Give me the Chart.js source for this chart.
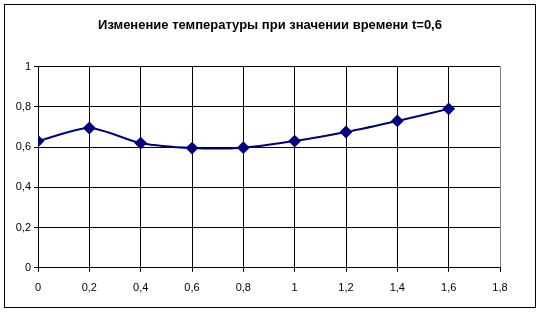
<!DOCTYPE html>
<html>
<head>
<meta charset="utf-8">
<script src="https://cdn.jsdelivr.net/npm/chart.js@4"></script>
<style>
  body { margin: 0; background: #fff; }
  #wrap { position: relative; width: 540px; height: 313px; }
  #frame { position: absolute; left: 4px; top: 4px; width: 530px; height: 302px; border: 1px solid #000; pointer-events: none; }
</style>
</head>
<body>
<div id="wrap">
  <canvas id="myChart" width="540" height="313"></canvas>
  <div id="frame"></div>
</div>
<script>
'use strict';

// values
let timeValues = [0, 0.2, 0.4, 0.6, 0.8, 1, 1.2, 1.4, 1.6];
let tempValues = [0.63, 0.695, 0.62, 0.595, 0.597, 0.63, 0.675, 0.73, 0.79];
let chartTitle = 'Изменение температуры при значении времени t=0,6';

function commaLabel(v){
  return String(Number(v.toFixed(1))).replace('.', ',');
}

let points = [];
for(let i = 0; i < timeValues.length; i++){
  points.push({x: timeValues[i], y: tempValues[i]});
}

const ctx = document.getElementById('myChart');

new Chart(ctx, {
  type: 'scatter',
  data: {
    datasets: [{
      data: points,
      showLine: true,
      borderColor: '#000080',
      backgroundColor: '#000080',
      borderWidth: 2,
      tension: 0.25,
      pointStyle: 'rectRot',
      pointRadius: 5,
      pointHoverRadius: 5
    }]
  },
  options: {
    responsive: false,
    animation: false,
    layout: { padding: { left: 0, right: 0, top: 0, bottom: 8 } },
    plugins: {
      legend: { display: false },
      tooltip: { enabled: false },
      title: {
        display: true,
        text: chartTitle,
        color: '#000',
        font: { family: 'Liberation Sans, Arial', size: 13, weight: 'bold' },
        padding: { top: 18, bottom: 33 }
      }
    },
    scales: {
      x: {
        type: 'linear',
        min: 0,
        max: 1.8,
        ticks: {
          stepSize: 0.2,
          color: '#000',
          padding: 10,
          font: { family: 'Liberation Sans, Arial', size: 11 },
          callback: (v) => commaLabel(v)
        },
        grid: {
          color: (c) => (c.index === 9 ? '#808080' : '#000'),
          tickLength: 4,
          tickColor: '#000'
        },
        border: { color: '#000' }
      },
      y: {
        min: 0,
        max: 1,
        afterFit: (scale) => { scale.width = 38; },
        ticks: {
          stepSize: 0.2,
          color: '#000',
          padding: 3,
          font: { family: 'Liberation Sans, Arial', size: 11 },
          callback: (v) => commaLabel(v)
        },
        grid: {
          color: '#000',
          tickLength: 4,
          tickColor: '#000'
        },
        border: { color: '#000' }
      },
      // empty right-hand margin so the title stays centred on the page
      yRight: {
        position: 'right',
        min: 0,
        max: 1,
        afterFit: (scale) => { scale.width = 40; },
        ticks: { display: false },
        grid: { display: false },
        border: { display: false }
      }
    }
  }
});
</script>
</body>
</html>
